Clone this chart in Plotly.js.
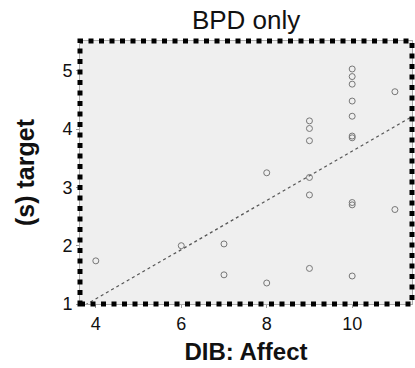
<!DOCTYPE html>
<html>
<head>
<meta charset="utf-8">
<script src="https://cdn.plot.ly/plotly-3.0.1.min.js"></script>
<style>html,body{margin:0;padding:0;background:#fff;}#chart{width:415px;height:368px;}</style>
</head>
<body>
<div id="chart"></div>
<script>
const dibAffect = [4,6,7,7,8,8,9,9,9,9,9,9,10,10,10,10,10,10,10,10,10,10,11,11];
const sTarget = [1.74,2.00,2.03,1.50,3.25,1.36,4.14,4.01,3.80,3.17,2.87,1.61,5.03,4.90,4.77,4.48,4.22,3.88,3.85,2.74,2.70,1.48,4.64,2.62];
const xTickVals = [4,6,8,10];
const yTickVals = [1,2,3,4,5];
const xRange = [3.63,11.4];
const yRange = [1,5.51];

// least-squares fit line
const n = dibAffect.length;
const mx = dibAffect.reduce((a,b)=>a+b,0)/n;
const my = sTarget.reduce((a,b)=>a+b,0)/n;
let sxy=0,sxx=0;
for(let i=0;i<n;i++){sxy+=(dibAffect[i]-mx)*(sTarget[i]-my);sxx+=(dibAffect[i]-mx)**2;}
const slope = sxy/sxx, icpt = my - slope*mx;
const fitX = [xRange[0], xRange[1]];
const fitY = fitX.map(v=>icpt+slope*v);

const font = "Liberation Sans, Arial, sans-serif";
const data = [
  {x: fitX, y: fitY, mode:'lines', type:'scatter', line:{color:'#555', width:1.2, dash:'dot'}, hoverinfo:'skip'},
  {x: dibAffect, y: sTarget, mode:'markers', type:'scatter', marker:{symbol:'circle-open', size:6, color:'#777', line:{width:1, color:'#777'}}}
];
const layout = {
  width:415, height:368,
  margin:{l:80, r:3, t:41, b:64},
  paper_bgcolor:'#fff', plot_bgcolor:'#efefef',
  showlegend:false,
  title:{text:'BPD only', font:{family:font, size:26, color:'#111'}, x:0.593, xanchor:'center', y:0.947, yanchor:'middle'},
  xaxis:{range:xRange, tickvals:xTickVals, ticks:'outside', ticklen:3, tickcolor:'#999', showgrid:false, zeroline:false,
    showline:true, linecolor:'#aaa', linewidth:1, mirror:true,
    tickfont:{family:font, size:18, color:'#111'},
    title:{text:'<b>DIB: Affect</b>', font:{family:font, size:24, color:'#111'}, standoff:10}},
  yaxis:{range:yRange, tickvals:yTickVals, ticks:'outside', ticklen:3, tickcolor:'#999', showgrid:false, zeroline:false,
    showline:true, linecolor:'#aaa', linewidth:1, mirror:true,
    tickfont:{family:font, size:18, color:'#111'},
    title:{text:'<b>(s) target</b>', font:{family:font, size:25, color:'#111'}, standoff:20}},
  shapes:[{type:'rect', xref:'paper', yref:'paper', x0:0, x1:1, y0:0, y1:1, layer:'above',
    line:{color:'#000', width:5, dash:'5px,5.5px'}}]
};
Plotly.newPlot('chart', data, layout, {displayModeBar:false, staticPlot:true});
</script>
</body>
</html>
